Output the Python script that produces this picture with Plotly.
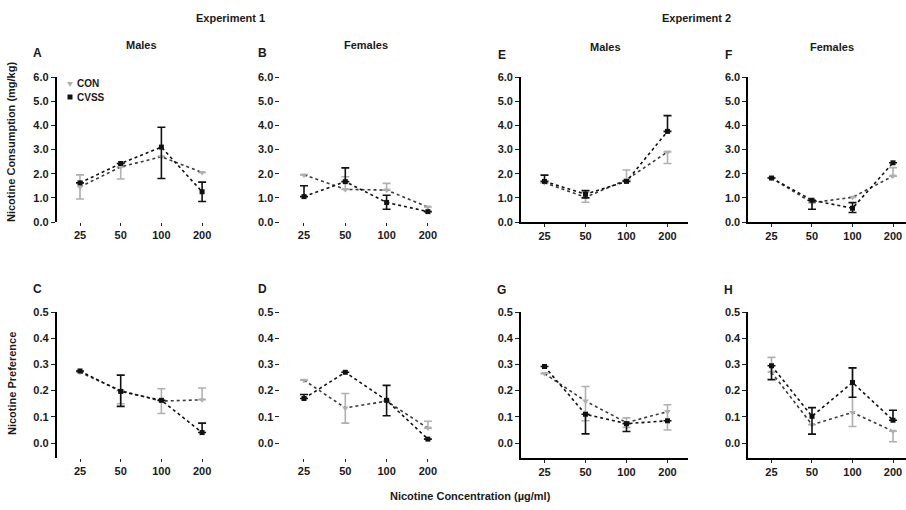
import plotly.graph_objects as go

# ---------------- data ----------------
concentrations = ["25", "50", "100", "200"]
consumption_ticks = [0, 1, 2, 3, 4, 5, 6]
preference_ticks = [0.0, 0.1, 0.2, 0.3, 0.4, 0.5]

# Experiment 1 - Males - consumption (A)
A_con = [1.45, 2.28, 2.70, 2.05]
A_con_up = [0.50, 0.00, 0.00, 0.00]
A_con_dn = [0.50, 0.50, 0.00, 0.00]
A_cvss = [1.62, 2.42, 3.10, 1.25]
A_cvss_up = [0.00, 0.00, 0.82, 0.40]
A_cvss_dn = [0.00, 0.00, 1.30, 0.40]

# Experiment 1 - Females - consumption (B)
B_con = [1.95, 1.35, 1.32, 0.62]
B_con_up = [0.00, 0.52, 0.28, 0.00]
B_con_dn = [0.00, 0.00, 0.00, 0.00]
B_cvss = [1.05, 1.67, 0.81, 0.43]
B_cvss_up = [0.45, 0.57, 0.30, 0.00]
B_cvss_dn = [0.00, 0.00, 0.28, 0.00]

# Experiment 2 - Males - consumption (E)
E_con = [1.62, 1.02, 1.75, 2.90]
E_con_up = [0.00, 0.20, 0.40, 0.00]
E_con_dn = [0.00, 0.20, 0.00, 0.48]
E_cvss = [1.68, 1.15, 1.68, 3.75]
E_cvss_up = [0.26, 0.15, 0.00, 0.65]
E_cvss_dn = [0.00, 0.15, 0.00, 0.00]

# Experiment 2 - Females - consumption (F)
F_con = [1.82, 0.80, 1.02, 1.90]
F_con_up = [0.00, 0.00, 0.00, 0.35]
F_con_dn = [0.00, 0.00, 0.00, 0.00]
F_cvss = [1.82, 0.90, 0.57, 2.45]
F_cvss_up = [0.00, 0.00, 0.23, 0.00]
F_cvss_dn = [0.00, 0.37, 0.18, 0.00]

# Experiment 1 - Males - preference (C)
C_con = [0.270, 0.200, 0.160, 0.165]
C_con_up = [0.000, 0.000, 0.047, 0.045]
C_con_dn = [0.000, 0.050, 0.047, 0.000]
C_cvss = [0.275, 0.197, 0.163, 0.040]
C_cvss_up = [0.000, 0.062, 0.000, 0.036]
C_cvss_dn = [0.000, 0.057, 0.000, 0.000]

# Experiment 1 - Females - preference (D)
D_con = [0.240, 0.134, 0.160, 0.057]
D_con_up = [0.000, 0.055, 0.000, 0.026]
D_con_dn = [0.000, 0.058, 0.000, 0.000]
D_cvss = [0.170, 0.270, 0.163, 0.015]
D_cvss_up = [0.015, 0.000, 0.057, 0.000]
D_cvss_dn = [0.000, 0.000, 0.059, 0.000]

# Experiment 2 - Males - preference (G)
G_con = [0.265, 0.160, 0.078, 0.120]
G_con_up = [0.000, 0.056, 0.018, 0.026]
G_con_dn = [0.000, 0.075, 0.018, 0.070]
G_cvss = [0.292, 0.110, 0.074, 0.085]
G_cvss_up = [0.000, 0.000, 0.000, 0.000]
G_cvss_dn = [0.000, 0.075, 0.030, 0.000]

# Experiment 2 - Females - preference (H)
H_con = [0.270, 0.070, 0.117, 0.045]
H_con_up = [0.057, 0.000, 0.170, 0.000]
H_con_dn = [0.000, 0.000, 0.054, 0.040]
H_cvss = [0.295, 0.102, 0.231, 0.087]
H_cvss_up = [0.000, 0.033, 0.056, 0.038]
H_cvss_dn = [0.053, 0.068, 0.056, 0.000]

# significance markers: (panel, concentration, y)
sig_marks = [("A", "200", 3.4), ("C", "200", 0.27), ("D", "200", 0.146)]

# ---------------- layout helpers ----------------
W, Hh = 906, 510
def fx(px):
    return px / W
def fy(py):
    return 1 - py / Hh

FONT = "Liberation Sans, Arial, sans-serif"
CON_MARK = "#b0b0b0"
CON_LINE = "#3a3a3a"
CVSS_COL = "#111111"

# column geometry (x of first category, category spacing)
cols = [(80, 40.7), (304, 41.3), (544.5, 41.0), (771.5, 40.5)]
LEFT = -0.57
RIGHT = 3.5
top_y = (77, 222)
bot_y = (312, 458)

panels = [
    # name, col, row, con, con_up, con_dn, cvss, cvss_up, cvss_dn, show yline, show xline
    ("A", 0, 0, A_con, A_con_up, A_con_dn, A_cvss, A_cvss_up, A_cvss_dn, True, False),
    ("B", 1, 0, B_con, B_con_up, B_con_dn, B_cvss, B_cvss_up, B_cvss_dn, False, False),
    ("E", 2, 0, E_con, E_con_up, E_con_dn, E_cvss, E_cvss_up, E_cvss_dn, True, True),
    ("F", 3, 0, F_con, F_con_up, F_con_dn, F_cvss, F_cvss_up, F_cvss_dn, True, True),
    ("C", 0, 1, C_con, C_con_up, C_con_dn, C_cvss, C_cvss_up, C_cvss_dn, True, False),
    ("D", 1, 1, D_con, D_con_up, D_con_dn, D_cvss, D_cvss_up, D_cvss_dn, False, False),
    ("G", 2, 1, G_con, G_con_up, G_con_dn, G_cvss, G_cvss_up, G_cvss_dn, True, True),
    ("H", 3, 1, H_con, H_con_up, H_con_dn, H_cvss, H_cvss_up, H_cvss_dn, True, True),
]

fig = go.Figure()
layout = {}
axis_ids = {}
tick_font = dict(family=FONT, size=11, color="#1a1a1a", weight="bold")

for i, (name, c, r, con, cu, cd, cv, vu, vd, yline, xline) in enumerate(panels):
    n = i + 1
    xa = "x" if n == 1 else f"x{n}"
    ya = "y" if n == 1 else f"y{n}"
    axis_ids[name] = (xa, ya)
    cat0, sp = cols[c]
    left_px = cat0 + LEFT * sp
    right_px = min(cat0 + RIGHT * sp, W)
    right_val = (right_px - cat0) / sp
    yt, yb = top_y if r == 0 else bot_y

    fig.add_trace(go.Scatter(
        x=concentrations, y=con, xaxis=xa, yaxis=ya, mode="lines+markers",
        line=dict(color=CON_LINE, width=1.6, dash="dot"),
        marker=dict(symbol="triangle-down", size=6, color=CON_MARK),
        error_y=dict(type="data", symmetric=False, array=cu, arrayminus=cd,
                     color=CON_MARK, thickness=1.6, width=4),
        showlegend=False, name="CON", cliponaxis=False))
    fig.add_trace(go.Scatter(
        x=concentrations, y=cv, xaxis=xa, yaxis=ya, mode="lines+markers",
        line=dict(color=CVSS_COL, width=1.6, dash="3px,3px"),
        marker=dict(symbol="square", size=5, color=CVSS_COL),
        error_y=dict(type="data", symmetric=False, array=vu, arrayminus=vd,
                     color=CVSS_COL, thickness=1.6, width=4),
        showlegend=False, name="CVSS", cliponaxis=False))

    xkey = "xaxis" if n == 1 else f"xaxis{n}"
    ykey = "yaxis" if n == 1 else f"yaxis{n}"
    layout[xkey] = dict(
        domain=[fx(left_px), fx(right_px)], anchor=ya, type="category",
        range=[LEFT, right_val], showline=xline, linecolor="black", linewidth=2,
        ticks="outside", ticklen=3, tickwidth=1.2, tickcolor="#222",
        tickfont=tick_font, showgrid=False, zeroline=False, fixedrange=True,
        automargin=False)
    if r == 0:
        yr = [0, 6]
        tv = consumption_ticks
    else:
        yr = [-0.057, 0.5]
        tv = preference_ticks
    layout[ykey] = dict(
        domain=[fy(yb), fy(yt)], anchor=xa, range=yr, tickvals=tv, tickformat=".1f",
        showline=yline, linecolor="black", linewidth=2,
        ticks="outside", ticklen=4, tickwidth=1.2, tickcolor="#222",
        tickfont=tick_font, showgrid=False, zeroline=False, fixedrange=True,
        automargin=False)

annotations = []
def txt(text, px, py, size=11, weight="bold", angle=0, xanchor="center"):
    annotations.append(dict(
        text=text, x=fx(px), y=fy(py), xref="paper", yref="paper",
        xanchor=xanchor, yanchor="middle", showarrow=False, textangle=angle,
        font=dict(family=FONT, size=size, color="#1a1a1a", weight=weight)))

txt("Experiment 1", 230, 18, size=11)
txt("Experiment 2", 696, 18, size=11)
txt("Males", 141, 45, size=11)
txt("Females", 366, 45, size=11)
txt("Males", 605, 47, size=11)
txt("Females", 832, 47, size=11)
for letter, px, py in [("A", 37, 53), ("B", 262, 53), ("E", 502, 55), ("F", 728, 55),
                       ("C", 37, 289), ("D", 262, 289), ("G", 501, 290), ("H", 728, 290)]:
    txt(letter, px, py, size=12)
txt("Nicotine Consumption (mg/kg)", 11, 142, size=11, angle=-90)
txt("Nicotine Preference", 12, 384, size=11, angle=-90)
txt("Nicotine Concentration (µg/ml)", 470, 496, size=11)

# legend (inside panel A)
txt("CON", 75, 84, size=10, xanchor="left")
txt("CVSS", 75, 97, size=10, xanchor="left")
shapes = [
    dict(type="path", xref="paper", yref="paper",
         path=f"M {fx(67)} {fy(82)} L {fx(73)} {fy(82)} L {fx(70)} {fy(87)} Z",
         fillcolor=CON_MARK, line=dict(width=0)),
    dict(type="rect", xref="paper", yref="paper",
         x0=fx(67.5), x1=fx(72.5), y0=fy(99.5), y1=fy(94.5),
         fillcolor=CVSS_COL, line=dict(width=0)),
]

for pname, xc, yv in sig_marks:
    xa, ya = axis_ids[pname]
    annotations.append(dict(
        text="*", x=xc, y=yv, xref=xa, yref=ya, showarrow=False,
        xanchor="center", yanchor="middle",
        font=dict(family=FONT, size=15, color="#1a1a1a", weight="bold")))

fig.update_layout(
    width=W, height=Hh, margin=dict(l=0, r=0, t=0, b=0, autoexpand=False),
    paper_bgcolor="white", plot_bgcolor="white",
    annotations=annotations, shapes=shapes, showlegend=False, **layout)

fig.write_html("out.html",
               config={"displayModeBar": False},
               post_script="document.body.style.margin='0px';document.body.style.overflow='hidden';")
